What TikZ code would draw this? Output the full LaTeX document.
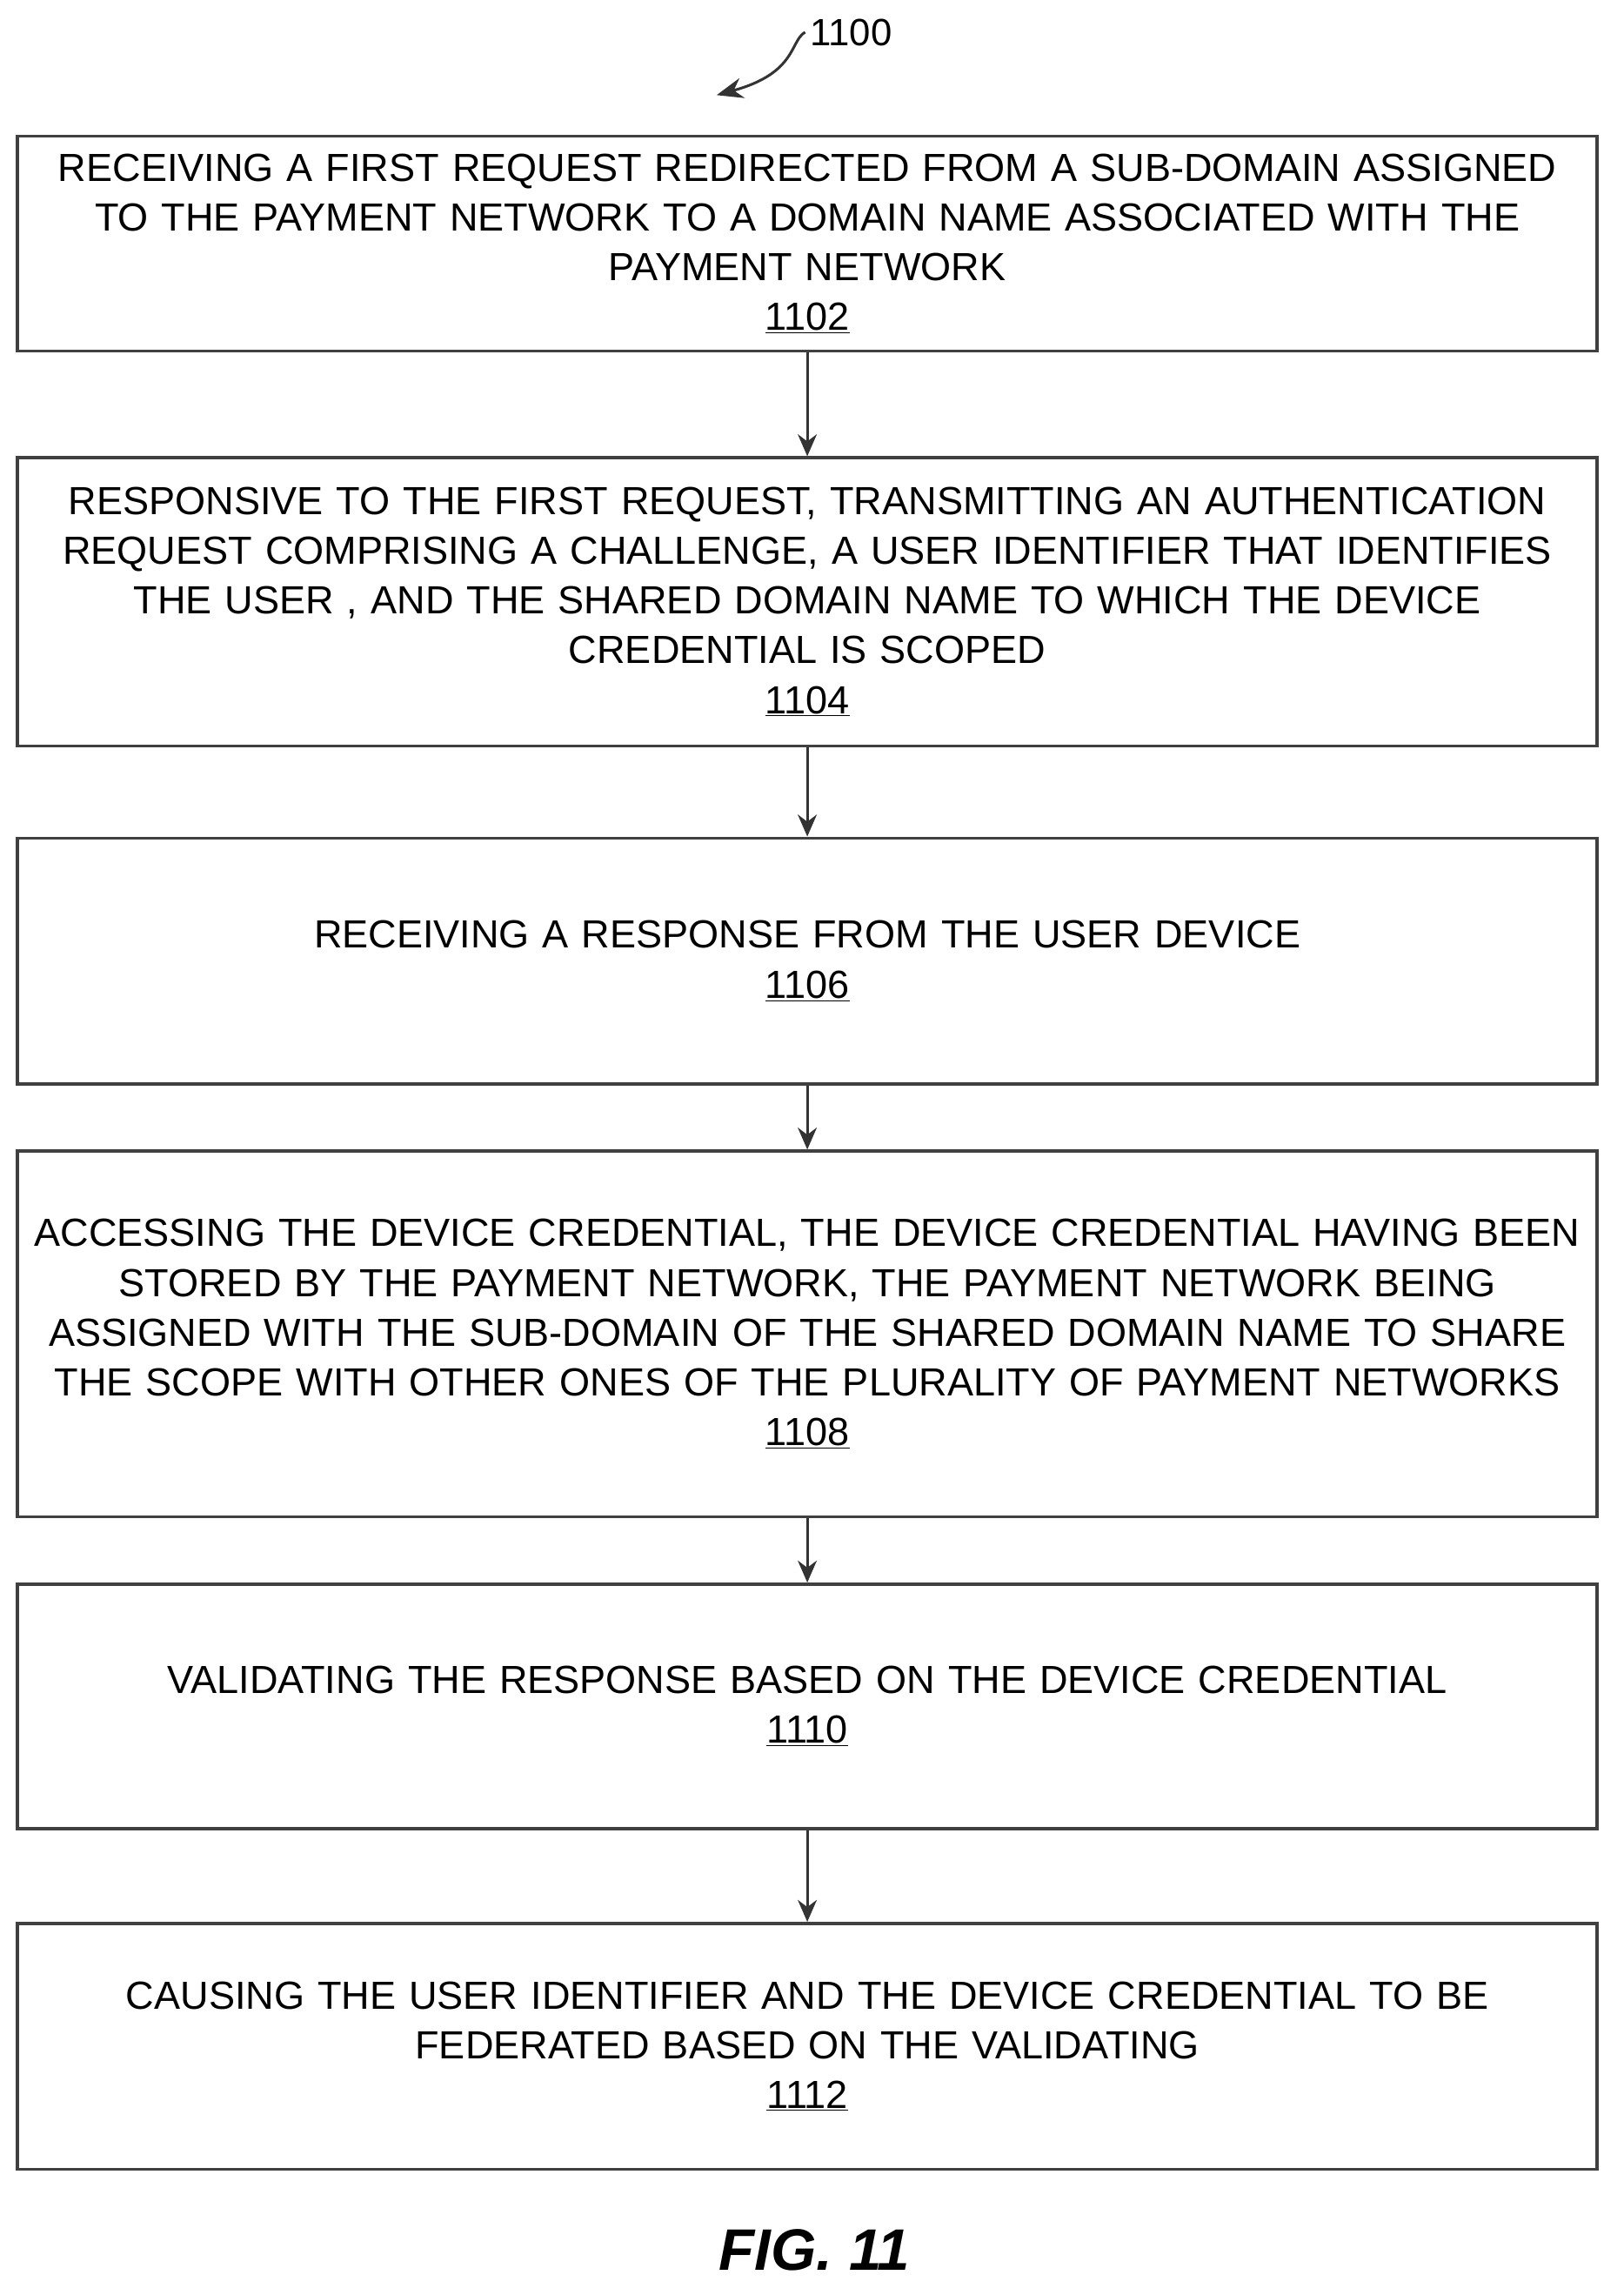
\documentclass[tikz,border=0pt]{standalone}
\usepackage{fontspec}
\setmainfont{Liberation Sans}
\usetikzlibrary{arrows.meta}
\begin{document}
\begin{tikzpicture}[x=1pt,y=-1pt,
 box/.style={draw=black!75,line width=2.2pt,minimum width=1080pt,align=center,text width=1078pt,inner sep=0pt,font=\fontsize{26.8}{34}\selectfont},
 arr/.style={-{Stealth[length=15pt,width=13pt]},line width=1.8pt,black!80}]
\useasboundingbox (0,0) rectangle (1110,1569);
\newcommand\ul[1]{\underline{#1}}
\node[box,minimum height=147pt] (b1) at (552,166.5) {RECEIVING A FIRST REQUEST REDIRECTED FROM A SUB-DOMAIN ASSIGNED\\TO THE PAYMENT NETWORK TO A DOMAIN NAME ASSOCIATED WITH THE\\PAYMENT NETWORK\\\ul{1102}};
\node[box,minimum height=197pt] (b2) at (552,411.5) {RESPONSIVE TO THE FIRST REQUEST, TRANSMITTING AN AUTHENTICATION\\REQUEST COMPRISING A CHALLENGE, A USER IDENTIFIER THAT IDENTIFIES\\THE USER , AND THE SHARED DOMAIN NAME TO WHICH THE DEVICE\\CREDENTIAL IS SCOPED\\\ul{1104}};
\node[box,minimum height=168pt] (b3) at (552,657) {RECEIVING A RESPONSE FROM THE USER DEVICE\\\ul{1106}};
\node[box,minimum height=250pt] (b4) at (552,912) {ACCESSING THE DEVICE CREDENTIAL, THE DEVICE CREDENTIAL HAVING BEEN\\STORED BY THE PAYMENT NETWORK, THE PAYMENT NETWORK BEING\\ASSIGNED WITH THE SUB-DOMAIN OF THE SHARED DOMAIN NAME TO SHARE\\THE SCOPE WITH OTHER ONES OF THE PLURALITY OF PAYMENT NETWORKS\\\ul{1108}};
\node[box,minimum height=167pt] (b5) at (552,1166.5) {VALIDATING THE RESPONSE BASED ON THE DEVICE CREDENTIAL\\\ul{1110}};
\node[box,minimum height=168pt] (b6) at (552,1399) {CAUSING THE USER IDENTIFIER AND THE DEVICE CREDENTIAL TO BE\\FEDERATED BASED ON THE VALIDATING\\\ul{1112}};
\foreach \a/\b in {b1/b2,b2/b3,b3/b4,b4/b5,b5/b6} \draw[arr] (\a.south) -- (\b.north);
\node[font=\fontsize{26}{28}\selectfont] (lbl) at (582,22) {1100};
\coordinate (tip) at (490,65);
\draw[line width=1.8pt,black!80,-{Stealth[length=18pt,width=14pt]}] (lbl.west) .. controls (540,28) and (545,50) .. (tip);
\node[font=\fontsize{40}{42}\selectfont\bfseries\itshape] (fig) at (557,1538) {FIG. 11};
\end{tikzpicture}
\end{document}
